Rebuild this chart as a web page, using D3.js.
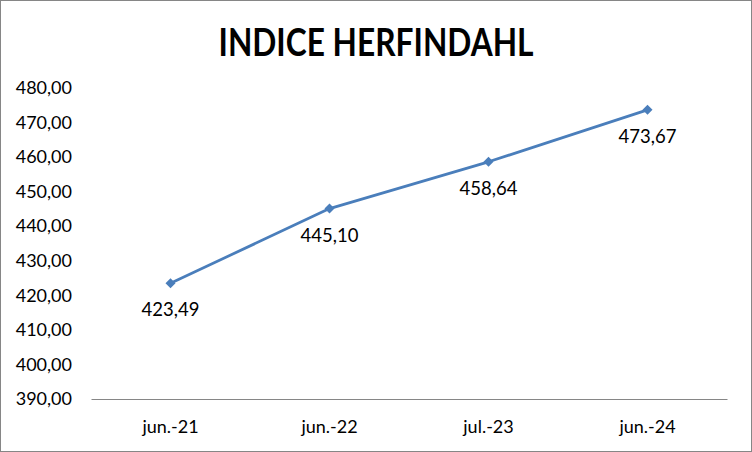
<!DOCTYPE html>
<html><head><meta charset="utf-8">
<script src="https://cdn.jsdelivr.net/npm/d3@7"></script>
<style>html,body{margin:0;padding:0;background:#fff;}svg{display:block;}</style>
</head><body>
<script>
const categories = ["jun.-21", "jun.-22", "jul.-23", "jun.-24"];
const values = [423.49, 445.10, 458.64, 473.67];
const yTicks = [390, 400, 410, 420, 430, 440, 450, 460, 470, 480];
const title = "INDICE HERFINDAHL";

const W = 752, H = 452;
const svg = d3.select("body").append("svg").attr("width", W).attr("height", H);
svg.append("rect").attr("x", 0.5).attr("y", 0.5).attr("width", W - 1).attr("height", H - 1)
  .attr("fill", "#fff").attr("stroke", "#868686").attr("stroke-width", 1);

const font = "Lato, 'Open Sans', sans-serif";
const fmt = v => d3.format(".2f")(v).replace(".", ",");

svg.append("text").attr("x", 376).attr("y", 56).attr("text-anchor", "middle")
  .attr("font-family", font).attr("font-weight", "bold").attr("font-size", 38)
  .attr("textLength", 315).attr("lengthAdjust", "spacingAndGlyphs")
  .attr("fill", "#000").text(title);

const x = d3.scaleBand().domain(categories).range([91, 727]).padding(0);
const y = d3.scaleLinear().domain([390, 480]).range([399, 88]);

const yAxis = d3.axisLeft(y).tickValues(yTicks).tickFormat(fmt).tickSize(0).tickPadding(0);
const gy = svg.append("g").attr("transform", "translate(72,0)").call(yAxis);
gy.select(".domain").remove();
gy.selectAll("text").attr("font-family", font).attr("font-size", 18).attr("fill", "#000");

const xAxis = d3.axisBottom(x).tickSize(0).tickPadding(0);
const gx = svg.append("g").attr("transform", "translate(0,399)").call(xAxis);
gx.select(".domain").attr("stroke", "#868686").attr("stroke-width", 1);
gx.selectAll("text").attr("font-family", font).attr("font-size", 18).attr("fill", "#000").attr("dy", "0").attr("y", 34);

const cx = c => x(c) + x.bandwidth() / 2;
const data = categories.map((c, i) => ({c, v: values[i]}));

svg.append("path").datum(data)
  .attr("fill", "none").attr("stroke", "#4A7EBB").attr("stroke-width", 2.75).attr("stroke-linejoin", "round")
  .attr("d", d3.line().x(d => cx(d.c)).y(d => y(d.v)));

svg.selectAll(".mk").data(data).enter().append("path")
  .attr("transform", d => `translate(${cx(d.c)},${y(d.v)})`)
  .attr("d", "M0,-5L5,0L0,5L-5,0Z").attr("fill", "#4A7EBB");

svg.selectAll(".lbl").data(data).enter().append("text")
  .attr("x", d => cx(d.c)).attr("y", d => y(d.v) + 33)
  .attr("text-anchor", "middle").attr("font-family", font).attr("font-size", 18.5).attr("fill", "#000")
  .text(d => fmt(d.v));
</script>
</body></html>
